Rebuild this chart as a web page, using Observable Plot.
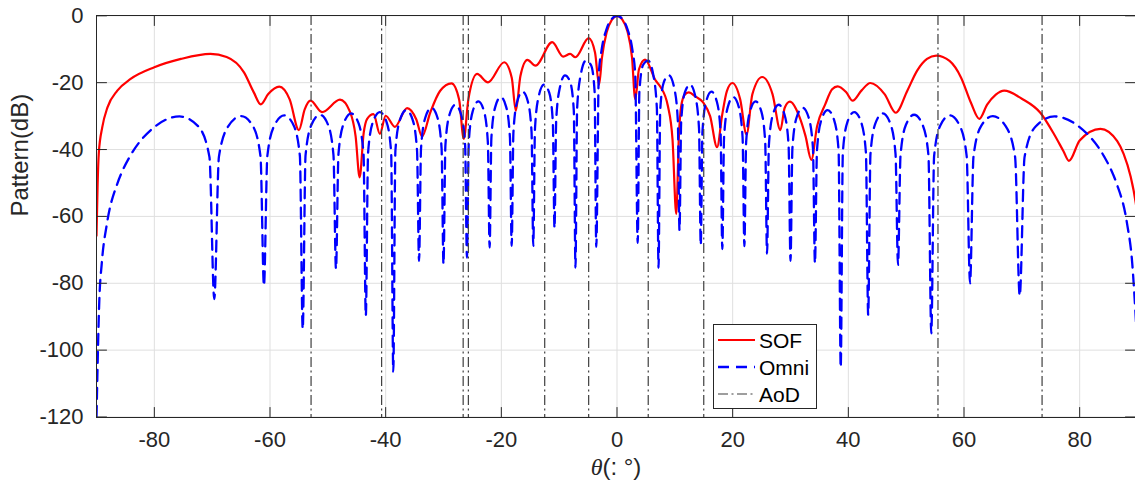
<!DOCTYPE html>
<html>
<head>
<meta charset="utf-8">
<script src="https://cdn.jsdelivr.net/npm/d3@7"></script>
<script src="https://cdn.jsdelivr.net/npm/@observablehq/plot@0.6"></script>
<style>
  html, body { margin: 0; padding: 0; background: #fff; overflow: hidden; }
  #wrap { position: relative; width: 1135px; height: 487px; }
  #legend { position: absolute; left: 713px; top: 324px; }
</style>
</head>
<body>
<div id="wrap"><div id="chart"></div><div id="legend"></div></div>
<script>
// ---------- data ----------
const seriesNames = ["SOF", "Omni", "AoD"];
const xTicks = [-80, -60, -40, -20, 0, 20, 40, 60, 80];
const yTicks = [0, -20, -40, -60, -80, -100, -120];
const xLabelParts = ["θ", "(: °)"];
const yLabel = "Pattern(dB)";

const aodTheta = [-52.9, -40.7, -26.6, -25.7, -12.5, -4.9, 5.4, 15.0, 55.5, 73.5];

const sofTheta = [
  -90, -89.8, -89.6, -89.0, -88.1, -86.4, -84.1, -80.0, -75.4, -70.3, -67.5, -64.5, -62.8, -61.6,
  -60.3, -58.4, -56.6, -55.0, -54.0, -53.0, -51.0, -47.9, -46.2, -45.2, -44.5, -43.8, -43.2, -42.1,
  -41.0, -40.0, -38.4, -36.3, -34.7, -33.7, -32.3, -30.6, -28.6, -27.3, -26.5, -25.7, -24.2, -22.3,
  -19.5, -18.2, -17.5, -16.7, -15.5, -14.1, -11.2, -9.3, -8.1, -7.2, -4.9, -3.8, -3.1, -2.6, -1.8,
  -0.9, 0, 0.9, 1.8, 2.6, 3.15, 3.8, 4.85, 6.7, 7.5, 8.8, 9.6, 10.25, 10.7, 11.1, 11.7, 12.4, 13.6,
  14.9, 16.1, 17.3, 18.2, 19.0, 19.95, 21.3, 22.4, 23.4, 25.1, 26.9, 28.25, 29.0, 29.9, 31.5, 32.6,
  33.6, 34.6, 36.0, 37.2, 38.15, 39.6, 40.75, 42.3, 43.8, 46.3, 48.2, 50.2, 51.9, 53.6, 55.2, 57.5,
  59.5, 61.2, 62.65, 64.0, 65.5, 66.95, 70.0, 73.2, 75.6, 77.2, 78.15, 80.0, 83.6, 86.5, 87.6, 88.8, 89.7, 90
];
const sofDb = [
  -65.8, -50, -41, -33.3, -27.4, -22.4, -18.9, -15.4, -12.9, -11.4, -12.3, -16.9, -22.9, -26.5,
  -23.4, -21.2, -25, -34.2, -28, -25.4, -28.8, -25.1, -28.6, -36, -48.3, -35, -30.8, -29.4,
  -35.3, -29.9, -33.2, -27.6, -31, -36.1, -29, -22.5, -20.2, -25, -36.8, -25, -17.4, -19.9,
  -13.9, -18.5, -28.4, -18, -13.2, -14.9, -7.9, -12.2, -11.4, -12.4, -6.7, -11, -20.6, -12.5, -5,
  -1.2, 0, -1.1, -4.6, -12.5, -25, -16, -13.1, -19.4, -21.2, -27, -37, -59.3, -36, -27, -23.6, -22.9, -24.2,
  -25.9, -30, -39.3, -29.5, -22.5, -20.1, -25, -35.5, -23.5, -18.3, -23.5, -34.2, -27.5, -25.7, -30, -36,
  -43.1, -33, -26.5, -22, -21.1, -22.8, -25.4, -22.3, -20.1, -23.5, -29, -22.4, -16.4, -12.9, -11.9, -13.5,
  -18.5, -26, -30.8, -26.6, -23.6, -22.4, -24.8, -29, -35.5, -40.5, -43.4, -37.3, -33.8, -37.5, -41.3, -48, -56, -60
];

const omniTheta = [
  -90, -89.5, -89.094, -88.188, -86.376, -85.469, -84.27, -79.858, -75.638, -72.387, -70.476,
  -69.636, -68.828, -67.202, -64.992, -62.951, -61.642,
  -61.045, -60.458, -59.246, -57.538, -55.906, -54.835,
  -54.341, -53.852, -52.832, -51.375, -49.963, -49.025,
  -48.590, -48.160, -47.255, -45.951, -44.678, -43.828,
  -43.433, -43.039, -42.212, -41.014, -39.838, -39.050,
  -38.682, -38.316, -37.544, -36.424, -35.319, -34.576,
  -34.229, -33.883, -33.153, -32.090, -31.039, -30.332,
  -30.000, -29.670, -28.971, -27.953, -26.944, -26.263,
  -25.944, -25.626, -24.953, -23.969, -22.993, -22.333,
  -22.024, -21.716, -21.062, -20.105, -19.155, -18.512,
  -18.210, -17.908, -17.270, -16.334, -15.404, -14.773,
  -14.478, -14.182, -13.554, -12.636, -11.720, -11.099,
  -10.807, -10.515, -9.896, -8.989, -8.084, -7.470,
  -7.181, -6.892, -6.279, -5.379, -4.481, -3.870,
  -3.583, -3.15, -2.69, -1.79, -0.895,
  0,
  0.895, 1.79, 2.69, 3.15, 3.583,
  3.870, 4.481, 5.379, 6.279, 6.892, 7.181,
  7.470, 8.084, 8.989, 9.896, 10.515, 10.807,
  11.099, 11.720, 12.636, 13.554, 14.182, 14.478,
  14.773, 15.404, 16.334, 17.270, 17.908, 18.210,
  18.512, 19.155, 20.105, 21.062, 21.716, 22.024,
  22.333, 22.993, 23.969, 24.953, 25.626, 25.944,
  26.263, 26.944, 27.953, 28.971, 29.670, 30.000,
  30.332, 31.039, 32.090, 33.153, 33.883, 34.229,
  34.576, 35.319, 36.424, 37.544, 38.316, 38.682,
  39.050, 39.838, 41.014, 42.212, 43.039, 43.433,
  43.828, 44.678, 45.951, 47.255, 48.160, 48.590,
  49.025, 49.963, 51.375, 52.832, 53.852, 54.341,
  54.835, 55.906, 57.538, 59.246, 60.458, 61.045,
  61.642, 62.951, 64.992, 67.202, 68.828, 69.636,
  70.476, 72.387, 75.638, 79.858, 84.27, 85.469, 86.376, 88.188, 89.094, 89.5, 90
];
const omniDb = [
  -120, -84.5, -74.1, -62.1, -50.1, -46.2, -42.2, -33.1, -30.1, -33.1, -42.2,
  -84.7, -42.1, -33.0, -30.0, -33.0, -42.1,
  -80.7, -41.9, -32.8, -29.8, -32.8, -41.9,
  -93.7, -41.7, -32.6, -29.6, -32.6, -41.7,
  -75.7, -41.3, -32.2, -29.2, -32.2, -41.3,
  -89.7, -40.9, -31.8, -28.8, -31.8, -40.9,
  -106.4, -40.3, -31.2, -28.2, -31.2, -40.3,
  -73.3, -39.6, -30.5, -27.5, -30.5, -39.6,
  -74.3, -38.7, -29.6, -26.6, -29.6, -38.7,
  -72.3, -37.7, -28.6, -25.6, -28.6, -37.7,
  -69.3, -36.4, -27.3, -24.3, -27.3, -36.4,
  -68.8, -34.8, -25.7, -22.7, -25.7, -34.8,
  -68.8, -33.7, -24.2, -20.6, -23.0, -31.6,
  -63.5, -31.3, -21.6, -17.8, -19.9, -28.3,
  -75.3, -27.6, -17.7, -13.4, -14.8, -22.7,
  -69.1, -17.5, -10.5, -3.9, -0.9,
  0,
  -0.9, -3.9, -10.5, -17.5, -67.9,
  -22.7, -14.8, -13.4, -17.7, -27.6, -75.4,
  -28.3, -19.9, -17.8, -21.6, -31.3, -64.1,
  -31.6, -23.0, -20.6, -24.2, -33.7, -68.6,
  -34.8, -25.7, -22.7, -25.7, -34.8, -69.8,
  -36.4, -27.3, -24.3, -27.3, -36.4, -68.9,
  -37.7, -28.6, -25.6, -28.6, -37.7, -71.1,
  -38.7, -29.6, -26.6, -29.6, -38.7, -73.3,
  -39.6, -30.5, -27.5, -30.5, -39.6, -74.0,
  -40.3, -31.2, -28.2, -31.2, -40.3, -105.2,
  -40.9, -31.8, -28.8, -31.8, -40.9, -89.4,
  -41.3, -32.2, -29.2, -32.2, -41.3, -74.5,
  -41.7, -32.6, -29.6, -32.6, -41.7, -95.0,
  -41.9, -32.8, -29.8, -32.8, -41.9, -80.0,
  -42.1, -33.0, -30.0, -33.0, -42.1, -83.7,
  -42.2, -33.1, -30.1, -33.1, -42.2, -46.2, -50.1, -62.1, -74.1, -84.5, -100
];

// ---------- styles ----------
const colors = {SOF: "#ff0000", Omni: "#0000ff", AoD: "#3f3f3f"};
const dashes = {SOF: null, Omni: "11,7", AoD: "10,3.5,2,3.5"};
const widths = {SOF: 2.2, Omni: 2.3, AoD: 1.2};
const textColor = "#262626";
const font = "'Liberation Sans', Arial, Helvetica, sans-serif";

if (sofTheta.length !== sofDb.length || omniTheta.length !== omniDb.length) {
  throw new Error("length mismatch " + sofTheta.length + "/" + sofDb.length + " " + omniTheta.length + "/" + omniDb.length);
}
const sof = sofTheta.map((t, i) => ({theta: t, db: sofDb[i]}));
const omni = omniTheta.map((t, i) => ({theta: t, db: omniDb[i]}));

const fmt = d => String(d);
// inward tick shape for the vector mark (a plain line of length l)
const tickShape = {draw(context, l) { context.moveTo(0, 0); context.lineTo(0, -l); }};
const tickOpts = {length: 10, anchor: "start", shape: tickShape, stroke: textColor, strokeWidth: 1};

const chart = Plot.plot({
  width: 1135,
  height: 487,
  marginLeft: 96,
  marginRight: 0,
  marginTop: 15,
  marginBottom: 70,
  x: {domain: [-90, 90], range: [96, 1137]},
  y: {domain: [-120, 0], range: [416.5, 15.3]},
  style: {fontFamily: font, fontSize: "22px", color: textColor, background: "#fff", overflow: "visible"},
  marks: [
    Plot.gridX(xTicks, {stroke: "#dfdfdf", strokeOpacity: 1, strokeWidth: 1}),
    Plot.gridY(yTicks, {stroke: "#dfdfdf", strokeOpacity: 1, strokeWidth: 1}),
    Plot.line(sof, {x: "theta", y: "db", stroke: colors.SOF, strokeWidth: widths.SOF, curve: "monotone-x", clip: true}),
    Plot.line(omni, {x: "theta", y: "db", stroke: colors.Omni, strokeWidth: widths.Omni, strokeDasharray: dashes.Omni, curve: "monotone-x", clip: true}),
    Plot.ruleX(aodTheta, {stroke: colors.AoD, strokeWidth: widths.AoD, strokeDasharray: dashes.AoD}),
    Plot.frame({stroke: textColor, strokeWidth: 1}),
    // inward ticks on all four sides
    Plot.vector(xTicks, {x: d => d, frameAnchor: "bottom", rotate: 0, ...tickOpts}),
    Plot.vector(xTicks, {x: d => d, frameAnchor: "top", rotate: 180, ...tickOpts}),
    Plot.vector(yTicks, {y: d => d, frameAnchor: "left", rotate: 90, ...tickOpts}),
    Plot.vector(yTicks, {y: d => d, frameAnchor: "right", rotate: -90, ...tickOpts}),
    // tick labels
    Plot.axisX(xTicks, {anchor: "bottom", tickSize: 0, tickPadding: 14, tickFormat: fmt, label: null, fontSize: 22, fill: textColor}),
    Plot.axisY(yTicks, {anchor: "left", tickSize: 0, tickPadding: 13, tickFormat: fmt, label: null, fontSize: 22, fill: textColor}),
    // axis titles
    Plot.text([yLabel], {frameAnchor: "left", dx: -76, rotate: -90, fontSize: 24, fill: textColor, text: d => d}),
    Plot.text([xLabelParts.join("")], {frameAnchor: "bottom", dy: 57, fontSize: 24, fill: textColor, text: d => d, className: "xlab"})
  ]
});
document.getElementById("chart").appendChild(chart);

// italic theta in the x title
d3.select(chart).selectAll("g.xlab text").each(function () {
  const t = d3.select(this);
  t.text(null);
  t.append("tspan").attr("font-family", "'Liberation Serif', 'DejaVu Serif', serif").attr("font-style", "italic").text(xLabelParts[0]);
  t.append("tspan").text(xLabelParts[1]);
});

// legend box
const lw = 104, lh = 85;
const leg = d3.select("#legend").append("svg").attr("width", lw).attr("height", lh)
  .style("font-family", font).style("font-size", "21px");
leg.append("rect").attr("x", 0.5).attr("y", 0.5).attr("width", lw - 1).attr("height", lh - 1)
  .attr("fill", "#fff").attr("stroke", textColor).attr("stroke-width", 1);
seriesNames.forEach((name, i) => {
  const cy = 16 + i * 27;
  leg.append("line").attr("x1", 5).attr("x2", 42).attr("y1", cy).attr("y2", cy)
    .attr("stroke", colors[name]).attr("stroke-width", widths[name])
    .attr("stroke-dasharray", dashes[name]);
  leg.append("text").attr("x", 46).attr("y", cy + 7.5).attr("fill", "#000").text(name);
});
</script>
</body>
</html>
